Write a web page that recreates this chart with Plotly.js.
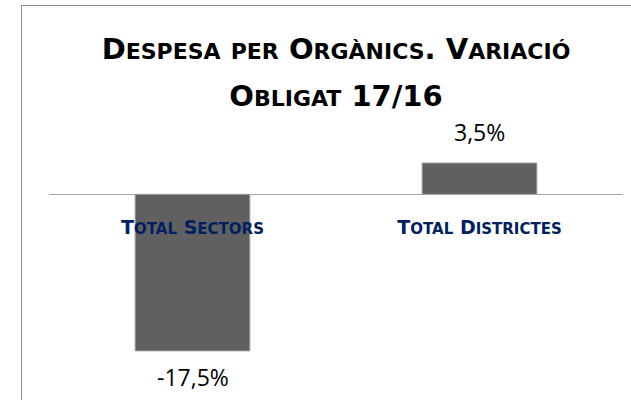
<!DOCTYPE html>
<html>
<head>
<meta charset="utf-8">
<script src="https://cdn.plot.ly/plotly-3.0.1.min.js"></script>
<style>
  html, body { margin: 0; padding: 0; background: #ffffff; overflow: hidden; }
  #wrap { position: relative; width: 631px; height: 400px; overflow: hidden; }
  #chart { width: 631px; height: 400px; }
  #frame { position: absolute; left: 21px; top: 5px; width: 700px; height: 500px;
           border: 1.5px solid #8c8c8c; pointer-events: none; box-sizing: border-box; }
</style>
</head>
<body>
<div id="wrap">
  <div id="chart"></div>
  <div id="frame"></div>
</div>
<script>
// ---- data ----
const categories = ["Total Sectors", "Total Districtes"];
const values = [-17.5, 3.5];
const titleLines = ["Despesa per Orgànics. Variació", "Obligat 17/16"];

// small-caps emulation: capitals at bigSize, lowercase letters as smaller capitals
function smallCaps(str, bigSize, smallSize) {
  let out = "", buf = "", mode = null;
  const flush = () => {
    if (buf) {
      const sz = mode === "s" ? smallSize : bigSize;
      out += "<span style='font-size:" + sz + "px'>" + (mode === "s" ? buf.toUpperCase() : buf) + "</span>";
      buf = "";
    }
  };
  for (const ch of str) {
    const m = (ch !== ch.toUpperCase() && ch === ch.toLowerCase()) ? "s" : "b";
    if (m !== mode) { flush(); mode = m; }
    buf += ch;
  }
  flush();
  return out;
}

const fmt = v => v.toFixed(1).replace(".", ",") + "%";
const xIdx = categories.map((c, i) => i);

const trace = {
  type: "bar",
  x: xIdx,
  y: values,
  width: 0.4,
  marker: { color: "#606060", line: { color: "#a6a6a6", width: 1 } },
  hoverinfo: "skip"
};

const labelAnnotations = values.map((v, i) => ({
  x: i, y: v, xref: "x", yref: "y",
  text: fmt(v),
  showarrow: false,
  yanchor: "middle",
  yshift: v >= 0 ? 31 : -26,
  font: { family: "'Open Sans', sans-serif", size: 23, color: "#000000" }
}));

const layout = {
  width: 631, height: 400,
  margin: { l: 49, r: 8, t: 120, b: 30, pad: 0 },
  paper_bgcolor: "#ffffff",
  plot_bgcolor: "rgba(0,0,0,0)",
  showlegend: false,
  title: {
    text: titleLines.map(s => smallCaps(s, 29, 22)).join("<br>"),
    x: 0.5, xref: "paper", xanchor: "center",
    y: 0.853, yref: "container", yanchor: "top",
    font: { family: "'DejaVu Sans', sans-serif", size: 36, color: "#000000", weight: 700 }
  },
  xaxis: {
    range: [-0.5, 1.5],
    tickvals: xIdx,
    ticktext: categories.map(c => smallCaps(c, 19, 15)),
    tickfont: { family: "'DejaVu Sans', sans-serif", size: 19, color: "#002060", weight: 700 },
    anchor: "free",
    position: 0.7028,
    showline: false, showgrid: false, zeroline: false,
    ticks: "",
    ticklabelstandoff: 20,
    fixedrange: true
  },
  yaxis: {
    range: [-19.63, 8.30],
    showticklabels: false, showgrid: false, showline: false,
    zeroline: true, zerolinecolor: "#a6a6a6", zerolinewidth: 1.5,
    ticks: "",
    fixedrange: true
  },
  annotations: labelAnnotations
};

Plotly.newPlot("chart", [trace], layout, { displayModeBar: false, staticPlot: true });
</script>
</body>
</html>
